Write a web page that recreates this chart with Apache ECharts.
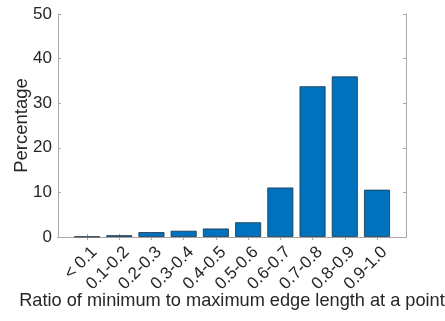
<!DOCTYPE html>
<html>
<head>
<meta charset="utf-8">
<script src="https://cdn.jsdelivr.net/npm/echarts@6/dist/echarts.min.js"></script>
<style>
  html, body { margin: 0; padding: 0; background: #fff; }
  #chart { width: 445px; height: 321px; }
</style>
</head>
<body>
<div id="chart"></div>
<script>
// Bin labels along the x axis
const categories = ['< 0.1', '0.1-0.2', '0.2-0.3', '0.3-0.4', '0.4-0.5',
                    '0.5-0.6', '0.6-0.7', '0.7-0.8', '0.8-0.9', '0.9-1.0'];
// Percentage of points falling in each bin
const percentages = [0.1, 0.4, 1.1, 1.4, 1.9, 3.3, 11.1, 33.8, 36.0, 10.6];
// Y axis range and step
const yTicks = [0, 10, 20, 30, 40, 50];

const positions = categories.map((c, i) => i + 1);
const barData = categories.map((c, i) => [positions[i], percentages[i]]);

const font = "'Liberation Sans', Arial, sans-serif";
const frameColor = '#a9a9a9';
const textColor = '#262626';

const xCommon = {
  type: 'value',
  min: 0.1,
  max: 10.9,
  splitLine: { show: false },
  axisLine: { show: true, lineStyle: { color: frameColor, width: 1 } },
  axisTick: { show: true, inside: true, length: 3, customValues: positions,
              lineStyle: { color: frameColor } }
};
const yCommon = {
  type: 'value',
  min: yTicks[0],
  max: yTicks[yTicks.length - 1],
  interval: yTicks[1] - yTicks[0],
  splitLine: { show: false },
  axisLine: { show: true, lineStyle: { color: frameColor, width: 1 } },
  axisTick: { show: true, inside: true, length: 3, lineStyle: { color: frameColor } }
};

const chart = echarts.init(document.getElementById('chart'), null, { renderer: 'canvas' });
chart.setOption({
  animation: false,
  backgroundColor: '#fff',
  textStyle: { fontFamily: font },
  grid: { left: 58, top: 14, width: 348, height: 223, containLabel: false, outerBoundsMode: 'none' },
  xAxis: [
    Object.assign({}, xCommon, {
      position: 'bottom',
      name: 'Ratio of minimum to maximum edge length at a point',
      nameLocation: 'middle',
      nameGap: 55,
      nameMoveOverlap: false,
      nameTextStyle: { color: textColor, fontSize: 18.2, fontFamily: font },
      axisLabel: {
        show: true, customValues: positions, rotate: 45, margin: 5,
        align: 'right', verticalAlign: 'top', padding: [2, 0, 0, 0],
        color: textColor, fontSize: 17, fontFamily: font,
        formatter: v => categories[Math.round(v) - 1] || ''
      }
    }),
    Object.assign({}, xCommon, { position: 'top', axisLabel: { show: false } })
  ],
  yAxis: [
    Object.assign({}, yCommon, {
      position: 'left',
      name: 'Percentage',
      nameLocation: 'middle',
      nameGap: 27,
      nameRotate: 90,
      nameMoveOverlap: false,
      nameTextStyle: { color: textColor, fontSize: 18.5, fontFamily: font },
      axisLabel: { show: true, margin: 6, color: textColor, fontSize: 17, fontFamily: font }
    }),
    Object.assign({}, yCommon, { position: 'right', axisLabel: { show: false } })
  ],
  series: [{
    type: 'bar',
    xAxisIndex: 0,
    yAxisIndex: 0,
    data: barData,
    barWidth: 26,
    itemStyle: { color: '#0072BD', borderColor: '#1f3347', borderWidth: 0.8 }
  }]
});
</script>
</body>
</html>
